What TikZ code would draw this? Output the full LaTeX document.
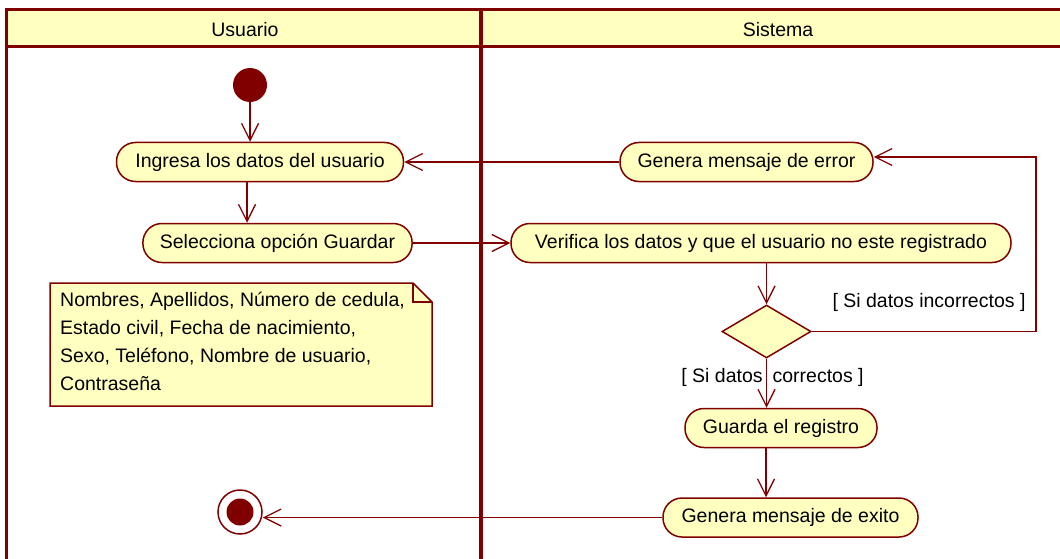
\documentclass[tikz,border=0pt]{standalone}
\usepackage{fontspec}
\setmainfont{Liberation Sans}
\usetikzlibrary{arrows.meta,shapes.geometric,backgrounds}
\definecolor{guinda}{RGB}{128,0,0}
\definecolor{crema}{RGB}{255,255,192}

\begin{document}
\begin{tikzpicture}[x=1pt,y=-1pt,
    font=\fontsize{19.5}{28}\selectfont,
    accion/.style={draw=guinda,fill=crema,line width=1.5pt,rounded corners=19pt,minimum height=39pt,inner xsep=17pt},
    decision/.style={diamond,draw=guinda,fill=crema,line width=1.5pt,minimum width=89pt,minimum height=53pt,inner sep=0pt},
    flecha/.style={guinda,line width=1.3pt,-{Straight Barb[length=17pt,width=17pt,line width=1.3pt]}},
    carril/.style={guinda,line width=3pt}]
    \useasboundingbox (0,0) rectangle (1060,559);
    % carriles
    \fill[crema] (6.5,10) rectangle (1062,46.5);
    \draw[carril] (1062,10) -- (6.5,10) -- (6.5,562);
    \draw[carril] (6.5,46.5) -- (1062,46.5);
    \draw[guinda,line width=4pt] (480.5,10) -- (480.5,562);
    \node (usuario) at (245,30) {Usuario};
    \node (sistema) at (778,30) {Sistema};
    % nodos
    \node[circle,fill=guinda,minimum size=34pt,inner sep=0pt] (inicio) at (250,85) {};
    \node[accion,minimum width=287pt] (ingresa) at (260,162) {Ingresa los datos del usuario};
    \node[accion,minimum width=265pt] (selecciona) at (277.5,243) {Selecciona opción Guardar};
    \node[accion,minimum width=253pt] (error) at (746.5,162) {Genera mensaje de error};
    \node[accion,minimum width=500pt] (verifica) at (761,243) {Verifica los datos y que el usuario no este registrado};
    \node[decision] (rombo) at (766.5,331.5) {};
    \node[accion,minimum width=192pt] (guarda) at (781,428) {Guarda el registro};
    \node[accion,minimum width=255pt] (exito) at (790.5,517.5) {Genera mensaje de exito};
    \node[circle,draw=guinda,line width=1.5pt,fill=white,minimum size=44pt,inner sep=0pt] (fin) at (240,512) {};
    \node[circle,fill=guinda,minimum size=27pt,inner sep=0pt] (finc) at (fin) {};
    \coordinate (vuelta) at (1036,331.5);
    % nota
    \node[anchor=north west,align=left,inner sep=0pt] (nota) at (60,292) {Nombres, Apellidos, Número de cedula,\\Estado civil, Fecha de nacimiento,\\Sexo, Teléfono, Nombre de usuario,\\Contraseña};
    \begin{scope}[on background layer]
        \draw[guinda,fill=crema,line width=1.5pt] (50,283) -- (413,283) -- (432,302) -- (432,406) -- (50,406) -- cycle;
        \draw[guinda,line width=1.5pt] (413,283) -- (413,302) -- (432,302);
    \end{scope}
    % flujos
    \draw[flecha] (inicio) -- (inicio |- ingresa.north);
    \draw[flecha] ([xshift=-13pt]ingresa.south) -- ([xshift=-13pt]ingresa.south |- selecciona.north);
    \draw[flecha] (selecciona) -- (verifica);
    \draw[flecha] (error) -- (ingresa);
    \draw[flecha] (rombo.north |- verifica.south) -- (rombo.north);
    \draw[flecha] (rombo.east) -- (vuelta) |- ([yshift=5pt]error.east);
    \draw[flecha] (rombo.south) -- (rombo.south |- guarda.north);
    \draw[flecha] ([xshift=-15pt]guarda.south) -- ([xshift=-15pt]guarda.south |- exito.north);
    \draw[flecha] (exito.west) -- (exito.west -| fin.east);
    \node (incorrectos) at (929,302) {[ Si datos incorrectos ]};
    \node (correctos) at (772.5,377) {[ Si datos\hspace{10pt}correctos ]};
\end{tikzpicture}
\end{document}
